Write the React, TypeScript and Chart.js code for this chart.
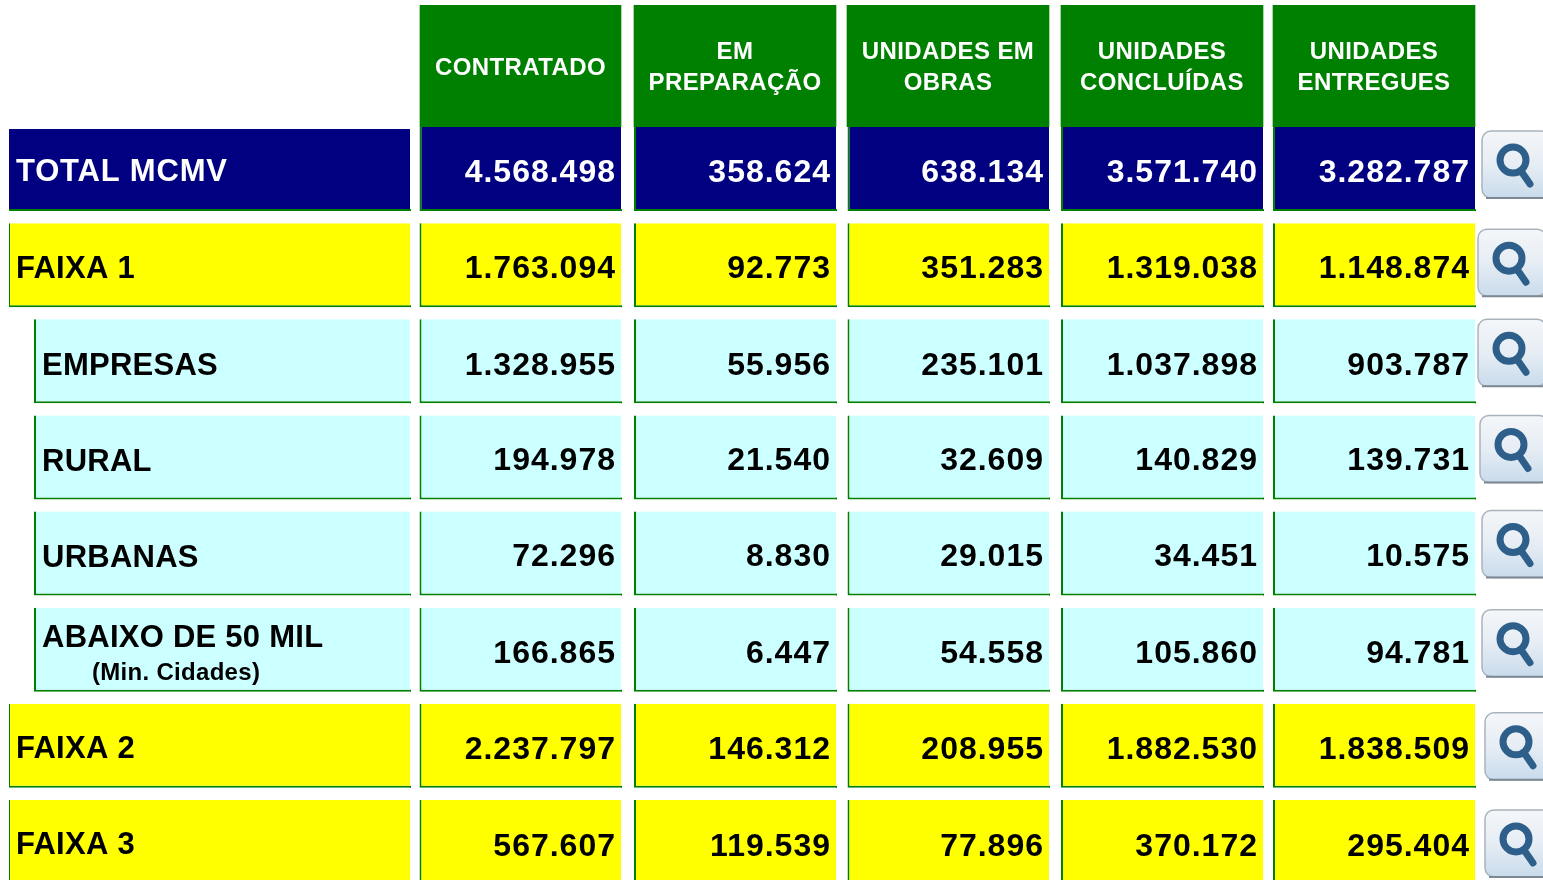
import React, { useEffect, useRef } from "react";
import { Chart, registerables } from "chart.js";

Chart.register(...registerables);

// ---------- data ----------
const headers = [["CONTRATADO"], ["EM", "PREPARAÇÃO"], ["UNIDADES EM", "OBRAS"], ["UNIDADES", "CONCLUÍDAS"], ["UNIDADES", "ENTREGUES"]];
const rowLabels = ["TOTAL MCMV", "FAIXA 1", "EMPRESAS", "RURAL", "URBANAS", "ABAIXO DE 50 MIL", "FAIXA 2", "FAIXA 3"];
const contratado = [4568498, 1763094, 1328955, 194978, 72296, 166865, 2237797, 567607];
const emPreparacao = [358624, 92773, 55956, 21540, 8830, 6447, 146312, 119539];
const unidadesEmObras = [638134, 351283, 235101, 32609, 29015, 54558, 208955, 77896];
const unidadesConcluidas = [3571740, 1319038, 1037898, 140829, 34451, 105860, 1882530, 370172];
const unidadesEntregues = [3282787, 1148874, 903787, 139731, 10575, 94781, 1838509, 295404];
const subLabel = "(Min. Cidades)";

// ---------- layout & style ----------
const W = 1543;
const FONT = '"Liberation Sans", Arial, sans-serif';
const GREEN = "#008000";
const NAVY = "#000080";
const YELLOW = "#ffff00";
const CYAN = "#ccffff";
const columns = [contratado, emPreparacao, unidadesEmObras, unidadesConcluidas, unidadesEntregues];
const colEdges = [[419.5, 621], [634, 836], [847.5, 1049], [1061, 1263], [1273, 1475]];
const headEdges = [[420, 621], [634, 836], [847, 1049], [1061, 1263], [1273, 1475]];
const textRight = [616, 831, 1044, 1258, 1470];
const rowKinds = ["total", "band", "sub", "sub", "sub", "sub", "band", "band"];
const labelDY = [3, 4, 5, 5, 5, -11, 4, 4];
const valueDY = [4, 4, 5, 4, 4, 4, 4, 5];
const iconX = [1482, 1478, 1478, 1480, 1482, 1482, 1485, 1485];
const iconDY = [-4, -2, -8, -8, -9, -6, 1, 2];

const fillFor = (k: string) => (k === "total" ? NAVY : k === "band" ? YELLOW : CYAN);
const fmt = (n: number) => String(n).replace(/\B(?=(\d{3})+(?!\d))/g, ".");

function drawIcon(ctx: CanvasRenderingContext2D, x: number, y: number) {
  const w = 68, h = 67;
  ctx.save();
  ctx.beginPath();
  ctx.roundRect(x, y, w, h, 9);
  const g = ctx.createLinearGradient(0, y, 0, y + h);
  g.addColorStop(0, "#f4f6f9");
  g.addColorStop(0.5, "#e6edf4");
  g.addColorStop(1, "#c9dbec");
  ctx.fillStyle = g;
  ctx.fill();
  ctx.lineWidth = 1.5;
  ctx.strokeStyle = "#a9b3bd";
  ctx.stroke();
  ctx.beginPath();
  ctx.moveTo(x + 4, y + h);
  ctx.lineTo(x + w - 2, y + h);
  ctx.strokeStyle = "#7c8893";
  ctx.lineWidth = 2;
  ctx.stroke();
  ctx.strokeStyle = "#2d5f8a";
  ctx.lineWidth = 7;
  ctx.beginPath();
  ctx.arc(x + 31, y + 29, 13, 0, Math.PI * 2);
  ctx.stroke();
  ctx.lineCap = "round";
  ctx.lineWidth = 7;
  ctx.beginPath();
  ctx.moveTo(x + 39, y + 40);
  ctx.lineTo(x + 48, y + 53);
  ctx.stroke();
  ctx.restore();
}

const headerText = {
  id: "headerText",
  afterDatasetsDraw(chart: any) {
    const { ctx, scales } = chart;
    ctx.save();
    ctx.fillStyle = "#ffffff";
    ctx.textAlign = "center";
    ctx.textBaseline = "middle";
    ctx.font = `bold 24px ${FONT}`;
    ctx.letterSpacing = "0.4px";
    const cy = scales.y.getPixelForValue(0);
    headers.forEach((lines, c) => {
      const cx = scales.x.getPixelForValue((headEdges[c][0] + headEdges[c][1]) / 2);
      lines.forEach((t, i) => {
        const y = cy + (i - (lines.length - 1) / 2) * 31 + 2;
        ctx.fillText(t, cx, y);
      });
    });
    ctx.restore();
  },
};

const bodyText = {
  id: "bodyText",
  afterDatasetsDraw(chart: any) {
    const { ctx, scales } = chart;
    ctx.save();

    // the green under-rule runs one pixel past each cell's fill
    chart.data.datasets.forEach((_d: any, di: number) => {
      chart.getDatasetMeta(di).data.forEach((el: any) => {
        const { x, y, height } = el.getProps(["x", "y", "height"]);
        ctx.fillStyle = GREEN;
        ctx.fillRect(x, y + height / 2 - 2, 1, 2);
      });
    });
    // the total's label cell begins just below the header strip
    const totalEl = chart.getDatasetMeta(0).data[0].getProps(["x", "y", "base", "height"]);
    ctx.clearRect(totalEl.base, totalEl.y - totalEl.height / 2, totalEl.x - totalEl.base, 2);

    ctx.textBaseline = "middle";
    rowLabels.forEach((label, r) => {
      const cy = scales.y.getPixelForValue(r);
      const kind = rowKinds[r];
      ctx.fillStyle = kind === "total" ? "#ffffff" : "#000000";
      ctx.font = `bold 31px ${FONT}`;
      ctx.letterSpacing = kind === "total" ? "0.8px" : "0.25px";
      ctx.textAlign = "left";
      const lx = kind === "sub" ? 42 : 16;
      ctx.fillText(label, lx, cy + labelDY[r]);
      if (label.startsWith("ABAIXO")) {
        ctx.font = `bold 24px ${FONT}`;
        ctx.letterSpacing = "0.3px";
        ctx.fillText(subLabel, 92, cy + 24);
      }
      ctx.font = `bold 32px ${FONT}`;
      ctx.letterSpacing = "1px";
      ctx.textAlign = "right";
      columns.forEach((col, c) => ctx.fillText(fmt(col[r]), textRight[c], cy + valueDY[r]));
      ctx.letterSpacing = "0px";
      drawIcon(ctx, iconX[r], cy - 34 + iconDY[r]);
    });
    ctx.restore();
  },
};

const hiddenScales = {
  x: { type: "linear", min: 0, max: W, display: false },
  y: { type: "category", display: false, offset: true },
};

export default function App() {
  const headRef = useRef<HTMLCanvasElement>(null);
  const bodyRef = useRef<HTMLCanvasElement>(null);

  useEffect(() => {
    const head = new Chart(headRef.current!, {
      type: "bar",
      data: {
        labels: ["Cabeçalho"],
        datasets: headers.map((h, c) => ({
          label: h.join(" "),
          data: [headEdges[c]],
          backgroundColor: GREEN,
          grouped: false,
          barPercentage: 1,
          categoryPercentage: 1,
        })),
      },
      options: {
        indexAxis: "y",
        responsive: false,
        animation: false,
        events: [],
        layout: { padding: 0 },
        plugins: { legend: { display: false }, tooltip: { enabled: false } },
        scales: hiddenScales,
      },
      plugins: [headerText],
    } as any);

    const body = new Chart(bodyRef.current!, {
      type: "bar",
      data: {
        labels: rowLabels,
        datasets: [
          {
            label: "Categoria",
            data: rowKinds.map((k) => [k === "sub" ? 34 : 9, 410]),
            backgroundColor: rowKinds.map(fillFor),
            borderColor: GREEN,
            borderSkipped: false,
            borderWidth: rowKinds.map((k) => ({ left: k === "total" ? 0 : k === "band" ? 1 : 2, bottom: 2, top: 0, right: 0 })),
            grouped: false,
            barPercentage: 84 / 96,
            categoryPercentage: 1,
          },
          ...columns.map((_col, c) => ({
            label: headers[c].join(" "),
            data: rowKinds.map(() => colEdges[c]),
            backgroundColor: rowKinds.map(fillFor),
            borderColor: GREEN,
            borderSkipped: false,
            borderWidth: { left: 2, bottom: 2, top: 0, right: 0 },
            grouped: false,
            barPercentage: 84 / 96,
            categoryPercentage: 1,
          })),
        ],
      },
      options: {
        indexAxis: "y",
        responsive: false,
        animation: false,
        events: [],
        layout: { padding: 0 },
        plugins: { legend: { display: false }, tooltip: { enabled: false } },
        scales: hiddenScales,
      },
      plugins: [bodyText],
    } as any);

    return () => {
      head.destroy();
      body.destroy();
    };
  }, []);

  return (
    <div style={{ position: "absolute", left: 0, top: 0, width: W, height: 880, overflow: "hidden", background: "#fff" }}>
      <canvas ref={bodyRef} width={W} height={769} style={{ position: "absolute", left: 0, top: 121 }} />
      <canvas ref={headRef} width={W} height={122} style={{ position: "absolute", left: 0, top: 5 }} />
    </div>
  );
}
